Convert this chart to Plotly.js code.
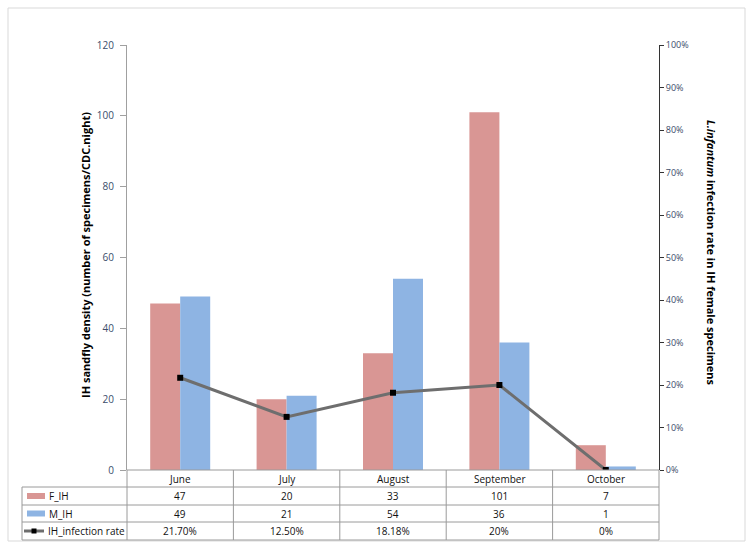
<!DOCTYPE html>
<html><head><meta charset="utf-8">
<script src="https://cdn.plot.ly/plotly-3.0.1.min.js"></script>
<style>html,body{margin:0;padding:0;background:#fff}</style>
</head><body><div id="chart" style="width:750px;height:547px"></div>
<script>
const months = ['June', 'July', 'August', 'September', 'October'];
const fIH = [47, 20, 33, 101, 7];
const mIH = [49, 21, 54, 36, 1];
const rate = [21.70, 12.50, 18.18, 20, 0];
const rateLabels = ['21.70%', '12.50%', '18.18%', '20%', '0%'];
const seriesNames = ['F_IH', 'M_IH', 'IH_infection rate'];
const leftTicks = [0, 20, 40, 60, 80, 100, 120];
const rightTicks = [0, 10, 20, 30, 40, 50, 60, 70, 80, 90, 100];
const rightTickLabels = ['0%', '10%', '20%', '30%', '40%', '50%', '60%', '70%', '80%', '90%', '100%'];

const FCOL = '#d99694', MCOL = '#8eb4e3', LCOL = '#6e6e6e';
const TICKCOL = '#3b4d6b';
const FONT = 'Open Sans, Noto Sans, sans-serif';
const GRID = '#9a9a9a';

// plot area pixel geometry: left 127, right 659, top 45, bottom 470
const PL = 127, PR = 659, PT = 45, PB = 470;
const W = PR - PL, H = PB - PT;
const px = x => (x - PL) / W;
const py = y => (PB - y) / H;

const traces = [
  {type: 'bar', name: seriesNames[0], x: months, y: fIH, marker: {color: FCOL}, yaxis: 'y', hoverinfo: 'y'},
  {type: 'bar', name: seriesNames[1], x: months, y: mIH, marker: {color: MCOL}, yaxis: 'y', hoverinfo: 'y'},
  {type: 'scatter', mode: 'lines+markers', name: seriesNames[2], x: months, y: rate, yaxis: 'y2',
   line: {color: LCOL, width: 3}, marker: {symbol: 'square', size: 6, color: '#000'}}
];

const rowLines = [470, 487, 505, 522, 540];
const colLines = [127, 233.4, 339.8, 446.2, 552.6, 659];
const shapes = [];
// outer frame
shapes.push({type: 'rect', xref: 'paper', yref: 'paper', x0: px(8), x1: px(745), y0: py(8), y1: py(541),
  line: {color: '#d9d9d9', width: 1}});
// horizontal table lines
shapes.push({type: 'line', xref: 'paper', yref: 'paper', x0: px(127), x1: px(659), y0: py(470), y1: py(470), line: {color: GRID, width: 1}});
for (let i = 1; i < rowLines.length; i++) {
  shapes.push({type: 'line', xref: 'paper', yref: 'paper', x0: px(22), x1: px(659), y0: py(rowLines[i]), y1: py(rowLines[i]), line: {color: GRID, width: 1}});
}
// vertical table lines
shapes.push({type: 'line', xref: 'paper', yref: 'paper', x0: px(22), x1: px(22), y0: py(487), y1: py(540), line: {color: GRID, width: 1}});
colLines.forEach(c => shapes.push({type: 'line', xref: 'paper', yref: 'paper', x0: px(c), x1: px(c), y0: py(470), y1: py(540), line: {color: GRID, width: 1}}));
// legend keys
shapes.push({type: 'rect', xref: 'paper', yref: 'paper', x0: px(27), x1: px(45), y0: py(499), y1: py(493), fillcolor: FCOL, line: {width: 0}});
shapes.push({type: 'rect', xref: 'paper', yref: 'paper', x0: px(27), x1: px(45), y0: py(516.5), y1: py(510.5), fillcolor: MCOL, line: {width: 0}});
shapes.push({type: 'line', xref: 'paper', yref: 'paper', x0: px(24), x1: px(44), y0: py(531), y1: py(531), line: {color: LCOL, width: 3}});
shapes.push({type: 'rect', xref: 'paper', yref: 'paper', x0: px(31.5), x1: px(36.5), y0: py(533.5), y1: py(528.5), fillcolor: '#000', line: {width: 0}});

const annotations = [];
const cellFont = {family: FONT, size: 10, color: '#111'};
const rowY = [478.5, 496, 513.5, 531];
const rows = [months, fIH.map(String), mIH.map(String), rateLabels];
rows.forEach((vals, r) => {
  vals.forEach((v, i) => {
    annotations.push({xref: 'x', yref: 'paper', x: months[i], y: py(rowY[r]), text: v, showarrow: false,
      xanchor: 'center', yanchor: 'middle', font: cellFont});
  });
});
seriesNames.forEach((n, i) => {
  annotations.push({xref: 'paper', yref: 'paper', x: px(i === 2 ? 46 : 47), y: py(rowY[i + 1]), text: n, showarrow: false,
    xanchor: 'left', yanchor: 'middle', font: cellFont});
});
// axis titles
annotations.push({xref: 'paper', yref: 'paper', x: px(85), y: py(255), textangle: -90, showarrow: false,
  text: '<b>IH sandfly density (number of specimens/CDC.night)</b>', font: {family: FONT, size: 11, color: '#000'},
  xanchor: 'center', yanchor: 'middle'});
annotations.push({xref: 'paper', yref: 'paper', x: px(712), y: py(253), textangle: 90, showarrow: false,
  text: '<b><i>L.infantum</i> infection rate in IH female specimens</b>', font: {family: FONT, size: 11, color: '#000'},
  xanchor: 'center', yanchor: 'middle'});

const layout = {
  width: 750, height: 547,
  margin: {l: PL, r: 750 - PR, t: PT, b: 547 - PB, pad: 0},
  paper_bgcolor: '#fff', plot_bgcolor: '#fff',
  showlegend: false,
  barmode: 'group', bargap: 0.436, bargroupgap: 0,
  font: {family: FONT},
  xaxis: {type: 'category', range: [-0.5, 4.5], showticklabels: false, ticks: '', showgrid: false, zeroline: false, showline: false, fixedrange: true},
  yaxis: {range: [0, 120], tickvals: leftTicks, ticks: 'outside', ticklen: 6, tickcolor: '#a0a0a0',
    showline: true, linecolor: '#a0a0a0', linewidth: 1, showgrid: false, zeroline: false,
    tickfont: {family: FONT, size: 10, color: TICKCOL}, ticklabelstandoff: 4},
  yaxis2: {range: [0, 100], overlaying: 'y', side: 'right', tickmode: 'array', tickvals: rightTicks, ticktext: rightTickLabels,
    ticks: 'outside', ticklen: 4, tickcolor: '#333', showline: true, linecolor: '#333', linewidth: 1,
    showgrid: false, zeroline: false, tickfont: {family: FONT, size: 9, color: TICKCOL}},
  shapes: shapes,
  annotations: annotations
};

Plotly.newPlot('chart', traces, layout, {displayModeBar: false, staticPlot: true});
</script></body></html>
